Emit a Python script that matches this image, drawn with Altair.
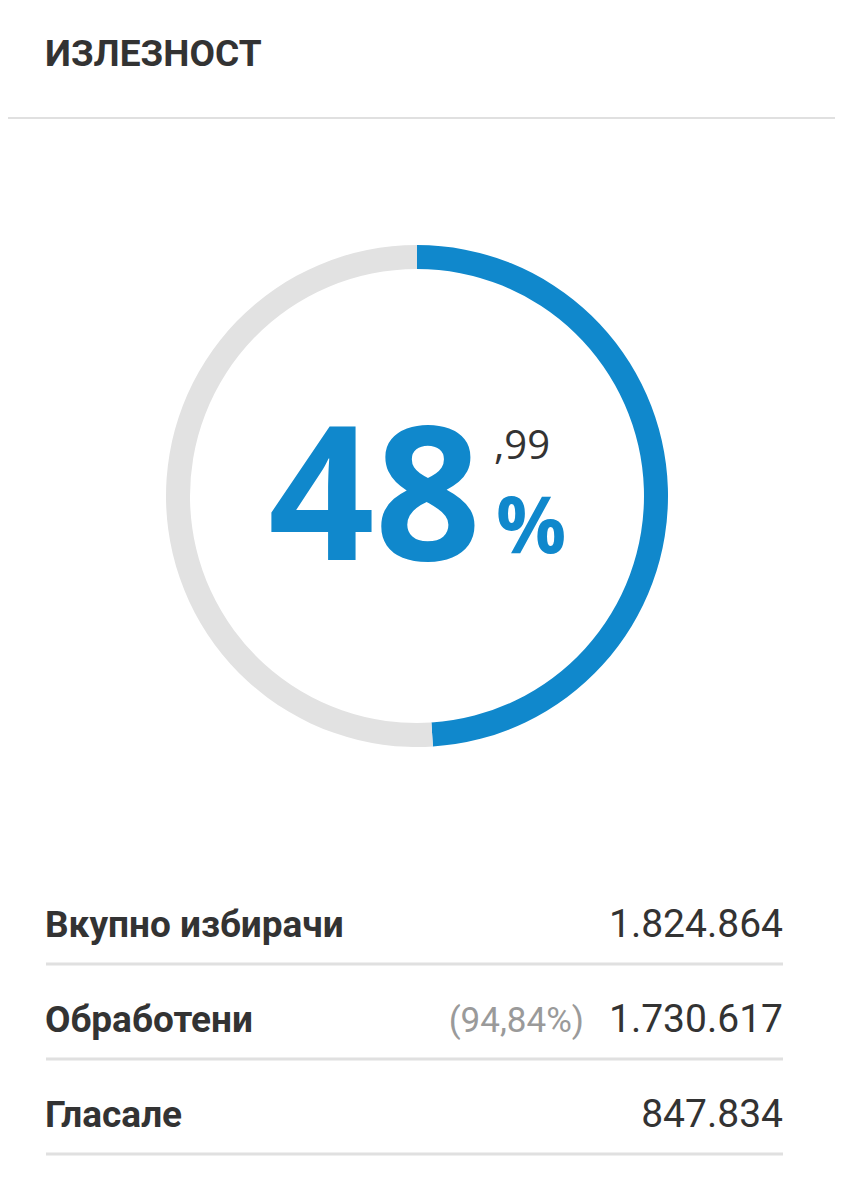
import altair as alt
import pandas as pd

# ---- data ----
title = "ИЗЛЕЗНОСТ"
turnout_pct = 48.99
ring_parts = ["Излезени", "Останати"]
row_labels = ["Вкупно избирачи", "Обработени", "Гласале"]
row_values = [1824864, 1730617, 847834]
row_notes = [None, 94.84, None]

BLUE = "#1088cc"
GREY_RING = "#e2e2e2"
DARK = "#333333"
LINE = "#e0e0e0"

W, H = 827, 1184
CX, CY = 409, 488

ring_df = pd.DataFrame({
    "part": ring_parts,
    "value": [turnout_pct, 100 - turnout_pct],
    "order": [0, 1],
})

int_part = str(int(turnout_pct))
dec_part = "," + f"{turnout_pct:.2f}".split(".")[1]


def fmt_int(v):
    return f"{v:,}".replace(",", ".")


rows_df = pd.DataFrame({
    "row": list(range(len(row_labels))),
    "label": row_labels,
    "value": [fmt_int(v) for v in row_values],
    "note": ["" if n is None else "(" + f"{n:.2f}".replace(".", ",") + "%)" for n in row_notes],
})

ring = alt.Chart(ring_df).mark_arc(innerRadius=227, outerRadius=251).encode(
    theta=alt.Theta("value:Q", stack=True, scale=alt.Scale(domain=[0, 100])),
    order=alt.Order("order:Q"),
    color=alt.Color("part:N", scale=alt.Scale(domain=ring_parts, range=[BLUE, GREY_RING]), legend=None),
    x=alt.value(CX),
    y=alt.value(CY),
)

one = pd.DataFrame({"a": [0]})

title_txt = alt.Chart(one).mark_text(
    text=title, font="Roboto", fontWeight="bold", fontSize=37, color=DARK,
    align="left", baseline="alphabetic",
).encode(x=alt.value(37), y=alt.value(58))

sep = alt.Chart(one).mark_rule(color=LINE, strokeWidth=2).encode(
    x=alt.value(0), x2=alt.value(W), y=alt.value(110)
)

big = alt.Chart(one).mark_text(
    text=int_part, font="Open Sans", fontWeight=700, fontSize=186, color=BLUE,
    align="right", baseline="alphabetic",
).encode(x=alt.value(473), y=alt.value(552))

dec = alt.Chart(one).mark_text(
    text=dec_part, font="Open Sans", fontWeight=400, fontSize=40, color=DARK,
    align="left", baseline="alphabetic",
).encode(x=alt.value(486), y=alt.value(451))

pct = alt.Chart(one).mark_text(
    text="%", font="Open Sans", fontWeight=700, fontSize=78, color=BLUE,
    align="left", baseline="alphabetic",
).encode(x=alt.value(488), y=alt.value(545))

yscale = alt.Scale(domain=[0, 2], range=[929, 1119], zero=False, nice=False)
ybase = alt.Y("row:Q", scale=yscale, axis=None)

labels = alt.Chart(rows_df).mark_text(
    font="Roboto", fontWeight="bold", fontSize=37, color=DARK,
    align="left", baseline="alphabetic",
).encode(x=alt.value(37), y=ybase, text="label:N")

values = alt.Chart(rows_df).mark_text(
    font="Roboto", fontWeight=400, fontSize=39, color=DARK,
    align="right", baseline="alphabetic",
).encode(x=alt.value(775), y=ybase, text="value:N")

notes = alt.Chart(rows_df).mark_text(
    font="Roboto", fontWeight=400, fontSize=35, color="#9a9a9a",
    align="right", baseline="alphabetic",
).encode(x=alt.value(576), y=ybase, text="note:N")

lines = alt.Chart(rows_df).mark_rule(color=LINE, strokeWidth=3, yOffset=27).encode(
    x=alt.value(38), x2=alt.value(775), y=ybase
)

chart = alt.layer(
    sep, title_txt, ring, big, dec, pct, lines, labels, values, notes
).properties(
    width=W, height=H, autosize=alt.AutoSizeParams(type="none"), padding=0,
    background="white",
).configure_view(stroke="transparent", strokeWidth=0)

chart.save("out.html", embed_options={"renderer": "svg", "actions": False})
